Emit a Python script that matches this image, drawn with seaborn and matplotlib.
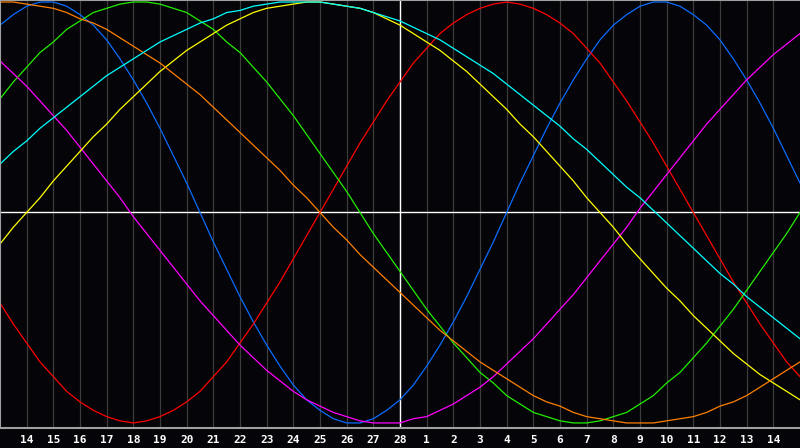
# Biorhythm chart: seven cycles over 30 days, centred on the 28th
import pandas as pd
import seaborn as sns
import matplotlib.pyplot as plt

# x positions in half-day steps, 0 .. 30 (day 13 .. day 15 of next month)
day_pos = [i / 2 for i in range(61)]
tick_pos = list(range(1, 30))
day_labels = ['14', '15', '16', '17', '18', '19', '20', '21', '22', '23', '24', '25',
              '26', '27', '28', '1', '2', '3', '4', '5', '6', '7', '8', '9', '10',
              '11', '12', '13', '14']
today_pos = 15

# values in percent, every half day
physical = [89, 94, 98, 100, 100, 98, 94, 89, 82, 73, 63, 52, 40, 27, 14, 0,
            -14, -27, -40, -52, -63, -73, -82, -89, -94, -98, -100, -100, -98, -94,
            -89, -82, -73, -63, -52, -40, -27, -14, 0, 14, 27, 40, 52, 63, 73, 82,
            89, 94, 98, 100, 100, 98, 94, 89, 82, 73, 63, 52, 40, 27, 14]
emotional = [-43, -53, -62, -71, -78, -85, -90, -94, -97, -99, -100, -99, -97, -94,
             -90, -85, -78, -71, -62, -53, -43, -33, -22, -11, 0, 11, 22, 33, 43, 53,
             62, 71, 78, 85, 90, 94, 97, 99, 100, 99, 97, 94, 90, 85, 78, 71, 62, 53,
             43, 33, 22, 11, 0, -11, -22, -33, -43, -53, -62, -71, -78]
intellectual = [54, 62, 69, 76, 81, 87, 91, 95, 97, 99, 100, 100, 99, 97, 95, 91,
                87, 81, 76, 69, 62, 54, 46, 37, 28, 19, 10, 0, -10, -19, -28, -37,
                -46, -54, -62, -69, -76, -81, -87, -91, -95, -97, -99, -100, -100, -99,
                -97, -95, -91, -87, -81, -76, -69, -62, -54, -46, -37, -28, -19, -10, 0]
intuitive = [72, 66, 60, 53, 46, 39, 31, 23, 15, 7, -2, -10, -18, -26, -34, -42,
             -49, -56, -63, -69, -75, -80, -85, -89, -92, -95, -97, -99, -100, -100,
             -100, -98, -97, -94, -91, -87, -83, -78, -72, -66, -60, -53, -46, -39,
             -31, -23, -15, -7, 2, 10, 18, 26, 34, 42, 49, 56, 63, 69, 75, 80, 85]
aesthetic = [-15, -7, 0, 7, 15, 22, 29, 36, 42, 49, 55, 61, 67, 72, 77, 81, 85, 89,
             92, 95, 97, 98, 99, 100, 100, 99, 98, 97, 95, 92, 89, 85, 81, 77, 72, 67,
             61, 55, 49, 42, 36, 29, 22, 15, 7, 0, -7, -15, -22, -29, -36, -42, -49,
             -55, -61, -67, -72, -77, -81, -85, -89]
awareness = [100, 100, 99, 98, 97, 95, 92, 90, 87, 83, 79, 75, 71, 66, 61, 56, 50,
             44, 38, 32, 26, 20, 13, 7, 0, -7, -13, -20, -26, -32, -38, -44, -50, -56,
             -61, -66, -71, -75, -79, -83, -87, -90, -92, -95, -97, -98, -99, -100,
             -100, -100, -99, -98, -97, -95, -92, -90, -87, -83, -79, -75, -71]
spiritual = [23, 29, 34, 40, 45, 50, 55, 60, 65, 69, 73, 77, 81, 84, 87, 90, 92, 95,
             96, 98, 99, 100, 100, 100, 100, 99, 98, 97, 95, 93, 91, 88, 85, 82, 78,
             74, 70, 66, 61, 56, 51, 46, 41, 35, 30, 24, 18, 12, 7, 1, -5, -11, -17,
             -23, -29, -34, -40, -45, -50, -55, -60]

series = {
    'Physical': physical,
    'Emotional': emotional,
    'Intellectual': intellectual,
    'Intuitive': intuitive,
    'Aesthetic': aesthetic,
    'Awareness': awareness,
    'Spiritual': spiritual,
}
colors = {
    'Physical': '#0a6cff',
    'Emotional': '#ff0000',
    'Intellectual': '#22ee00',
    'Intuitive': '#ff00ff',
    'Aesthetic': '#ffff00',
    'Awareness': '#ff8000',
    'Spiritual': '#00ffff',
}

rows = []
for name, vals in series.items():
    for d, v in zip(day_pos, vals):
        rows.append({'day': d, 'value': v, 'cycle': name})
df = pd.DataFrame(rows)

sns.set_style('dark')
bg = '#050408'
fig = plt.figure(figsize=(8, 4.48), dpi=100, facecolor=bg)
ax = fig.add_axes([0, 20 / 448, 1, 428 / 448])
ax.set_facecolor(bg)

# day grid
for d in tick_pos:
    ax.axvline(d, color='#3c3c3c', lw=0.9, zorder=0)
ax.axvline(today_pos, color='white', lw=1.0, zorder=1)
ax.axhline(0, color='white', lw=1.0, zorder=1)

sns.lineplot(data=df, x='day', y='value', hue='cycle', palette=colors,
             hue_order=list(series.keys()), lw=0.9, legend=False, ax=ax, zorder=2)

ax.set_xlim(0, 30)
ax.set_ylim(-102.4, 100.95)
ax.set_xticks(tick_pos)
ax.set_xticklabels(day_labels, color='white', fontsize=8, fontweight='bold',
                   family='DejaVu Sans Mono')
ax.set_yticks([])
ax.tick_params(axis='x', length=0, pad=5)
ax.set_xlabel('')
ax.set_ylabel('')
ax.grid(False)
for side in ['left', 'bottom', 'top']:
    ax.spines[side].set_visible(True)
    ax.spines[side].set_color('#a0a0a0')
    ax.spines[side].set_linewidth(1.5)
ax.spines['right'].set_visible(False)

plt.savefig('out.png', dpi=100, facecolor=bg)
